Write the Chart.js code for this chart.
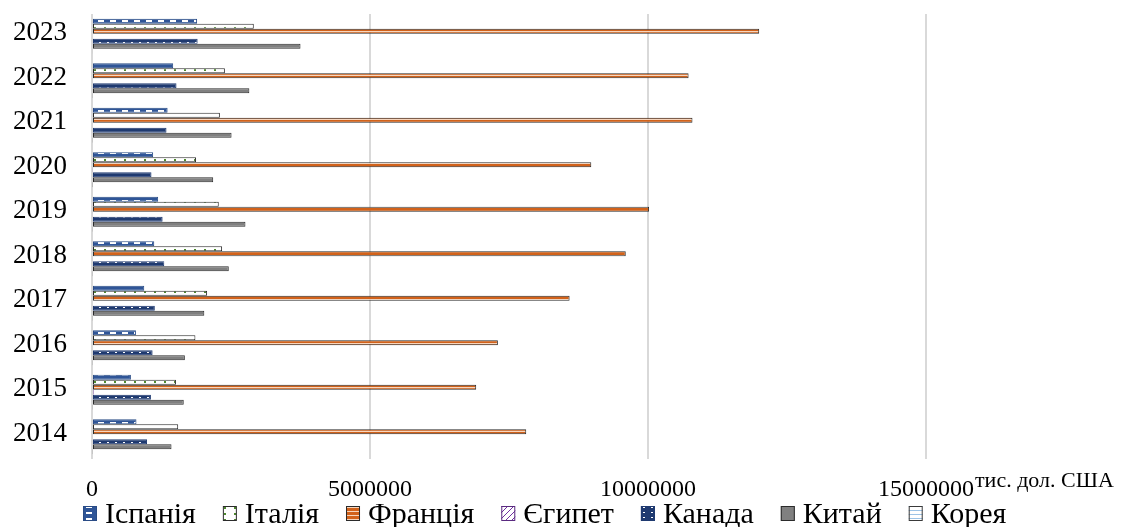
<!DOCTYPE html>
<html>
<head>
<meta charset="utf-8">
<script src="https://cdn.jsdelivr.net/npm/chart.js@4.4.1/dist/chart.umd.min.js"></script>
<style>
  html, body { margin: 0; padding: 0; background: #fff; }
  canvas { display: block; }
</style>
</head>
<body>
<canvas id="chart" width="1123" height="527"></canvas>
<script>
// Years, listed top to bottom
const years = ['2023', '2022', '2021', '2020', '2019', '2018', '2017', '2016', '2015', '2014'];

// Values, thousand USD, in the same order as years
const spain  = [1890000, 1460000, 1360000, 1100000, 1190000, 1120000, 940000, 790000, 700000, 800000];
const italy  = [2910000, 2390000, 2300000, 1870000, 2280000, 2340000, 2070000, 1860000, 1510000, 1550000];
const france = [12000000, 10730000, 10800000, 8980000, 10020000, 9600000, 8590000, 7300000, 6910000, 7810000];
const egypt  = [20000, 15000, 15000, 12000, 15000, 15000, 18000, 20000, 30000, 15000];
const canada = [1900000, 1520000, 1340000, 1070000, 1270000, 1300000, 1130000, 1090000, 1060000, 990000];
const china  = [3750000, 2830000, 2510000, 2180000, 2760000, 2460000, 2020000, 1670000, 1650000, 1430000];
const korea  = [15000, 12000, 12000, 10000, 12000, 12000, 12000, 12000, 12000, 12000];

const seriesNames = ['Іспанія', 'Італія', 'Франція', 'Єгипет', 'Канада', 'Китай', 'Корея'];
const xTicks = [0, 5000000, 10000000, 15000000];
const unitLabel = 'тис. дол. США';

const FONT = "'Liberation Serif', 'Times New Roman', serif";
Chart.defaults.font.family = FONT;
Chart.defaults.color = '#000';

const canvas = document.getElementById('chart');
const ctx = canvas.getContext('2d');

// Small tiled fills for the hatched bars
function tile(w, h, paint) {
  const c = document.createElement('canvas');
  c.width = w; c.height = h;
  const g = c.getContext('2d');
  paint(g, w, h);
  return ctx.createPattern(c, 'repeat');
}

const spainFill = tile(12, 6, (g, w, h) => {
  g.fillStyle = '#2F5597'; g.fillRect(0, 0, w, h);
  g.fillStyle = '#ffffff'; g.fillRect(2, 2, 6, 2);
});
const italyFill = tile(10, 6, (g, w, h) => {
  g.fillStyle = '#ffffff'; g.fillRect(0, 0, w, h);
  g.fillStyle = '#4E8A2E'; g.fillRect(4, 3, 2, 2);
});
const franceFill = tile(4, 4, (g, w, h) => {
  g.fillStyle = '#F7D6BE'; g.fillRect(0, 0, w, h);
  g.fillStyle = '#D2621A'; g.fillRect(0, 0, w, 3);
});
const egyptFill = tile(6, 6, (g, w, h) => {
  g.fillStyle = '#ffffff'; g.fillRect(0, 0, w, h);
  g.fillStyle = '#7030A0';
  for (let i = 0; i < 6; i++) g.fillRect(i, 5 - i, 1, 1);
});
const canadaFill = tile(8, 5, (g, w, h) => {
  g.fillStyle = '#1F3A70'; g.fillRect(0, 0, w, h);
  g.fillStyle = '#ffffff'; g.fillRect(3, 2, 2, 1);
});
const chinaFill = '#808080';
const koreaFill = tile(4, 4, (g, w, h) => {
  g.fillStyle = '#ffffff'; g.fillRect(0, 0, w, h);
  g.fillStyle = '#9DC3E6'; g.fillRect(0, 2, w, 1);
});

const series = [spain, italy, france, egypt, canada, china, korea];
const fills = [spainFill, italyFill, franceFill, egyptFill, canadaFill, chinaFill, koreaFill];
const borders = ['#2A4C86', '#2b2b2b', '#2b2b2b', '#5a2a80', '#1F3A70', '#2b2b2b', '#3a3a3a'];

const datasets = series.map((data, i) => ({
  label: seriesNames[i],
  data: data,
  backgroundColor: fills[i],
  borderColor: borders[i],
  borderWidth: 1,
  borderSkipped: false,
  categoryPercentage: 0.79,
  barPercentage: 1.0
}));

// Key along the bottom edge: swatch + name for every series
const bottomKey = {
  id: 'bottomKey',
  afterDraw(chart) {
    const c = chart.ctx;
    c.save();
    c.font = '30px ' + FONT;
    c.textBaseline = 'alphabetic';
    c.textAlign = 'left';
    let x = 83;
    const boxW = 14, boxH = 15, boxY = 506, textGap = 8, itemGap = 27, baseY = 523;
    chart.data.datasets.forEach(ds => {
      c.fillStyle = ds.backgroundColor;
      c.fillRect(x, boxY, boxW, boxH);
      c.strokeStyle = ds.borderColor;
      c.lineWidth = 1;
      c.strokeRect(x + 0.5, boxY + 0.5, boxW - 1, boxH - 1);
      c.fillStyle = '#000';
      const tx = x + boxW + textGap;
      c.fillText(ds.label, tx, baseY);
      x = tx + c.measureText(ds.label).width + itemGap;
    });
    c.restore();
  }
};

// Unit caption to the right of the value axis
const unitCaption = {
  id: 'unitCaption',
  afterDraw(chart) {
    const c = chart.ctx;
    const area = chart.chartArea;
    c.save();
    c.font = '22px ' + FONT;
    c.fillStyle = '#000';
    c.textAlign = 'left';
    c.textBaseline = 'alphabetic';
    c.fillText(unitLabel, area.right + 49, 487);
    c.restore();
  }
};

new Chart(ctx, {
  type: 'bar',
  data: { labels: years, datasets: datasets },
  options: {
    indexAxis: 'y',
    responsive: false,
    animation: false,
    events: [],
    layout: { padding: { top: 14, right: 197, bottom: 30, left: 0 } },
    plugins: {
      legend: { display: false },
      tooltip: { enabled: false }
    },
    scales: {
      x: {
        type: 'linear',
        min: xTicks[0],
        max: xTicks[xTicks.length - 1],
        afterBuildTicks(scale) { scale.ticks = xTicks.map(v => ({ value: v })); },
        afterFit(scale) { scale.height = 38; scale.paddingLeft = 0; scale.paddingRight = 0; },
        ticks: {
          callback: v => String(v),
          font: { size: 24 },
          color: '#000',
          padding: 16,
          maxRotation: 0
        },
        grid: { color: '#d9d9d9', lineWidth: 2, drawTicks: false },
        border: { display: false }
      },
      y: {
        type: 'category',
        afterFit(scale) { scale.width = 92; scale.paddingTop = 0; scale.paddingBottom = 0; },
        ticks: { font: { size: 27 }, color: '#000', padding: 25, labelOffset: -3 },
        grid: { display: false, drawTicks: false },
        border: { display: false }
      }
    }
  },
  plugins: [bottomKey, unitCaption]
});
</script>
</body>
</html>
